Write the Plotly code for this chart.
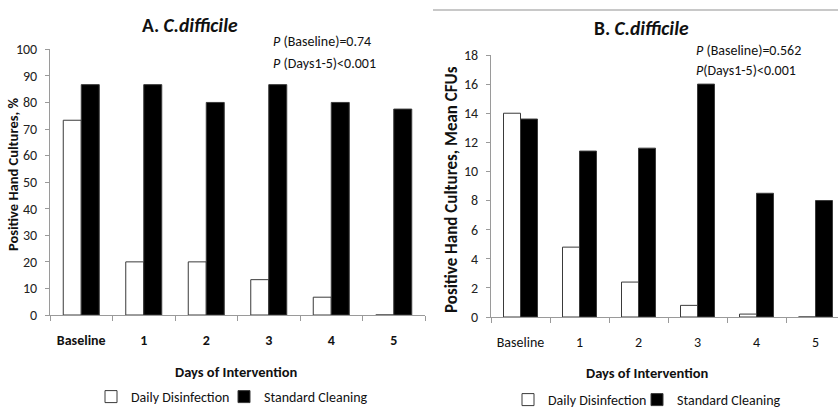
import plotly.graph_objects as go

categories = ["Baseline", "1", "2", "3", "4", "5"]
series_names = ["Daily Disinfection", "Standard Cleaning"]

# Panel A: positive hand cultures, %
a_daily = [73.3, 20.0, 20.0, 13.3, 6.7, 0.0]
a_standard = [86.7, 86.7, 80.0, 86.7, 80.0, 77.5]

# Panel B: positive hand cultures, mean CFUs
b_daily = [14.0, 4.8, 2.4, 0.8, 0.2, 0.0]
b_standard = [13.6, 11.4, 11.6, 16.0, 8.5, 8.0]

a_yticks = [0, 10, 20, 30, 40, 50, 60, 70, 80, 90, 100]
b_yticks = [0, 2, 4, 6, 8, 10, 12, 14, 16, 18]

FONT = "Carlito, Lato, sans-serif"
W, H = 838, 410
AX = "#9a9a9a"
EDGE = "#3a3a3a"
TXT = "#111"

def px_x(p):
    return p / W

def px_y(p):
    return 1 - p / H

fig = go.Figure()

fills = ["white", "black"]
legend_ids_a = ["legend", "legend2"]
legend_ids_b = ["legend3", "legend4"]
for name, vals, fill, lg in zip(series_names, [a_daily, a_standard], fills, legend_ids_a):
    fig.add_trace(go.Bar(x=categories, y=vals, name=name, xaxis="x", yaxis="y",
                         marker=dict(color=fill, line=dict(color=EDGE, width=1)),
                         legend=lg, showlegend=True))
for name, vals, fill, lg in zip(series_names, [b_daily, b_standard], fills, legend_ids_b):
    fig.add_trace(go.Bar(x=categories, y=vals, name=name, xaxis="x2", yaxis="y2",
                         marker=dict(color=fill, line=dict(color=EDGE, width=1)),
                         legend=lg, showlegend=True))

common_x = dict(type="category", showline=True, linecolor=AX, linewidth=1,
                ticks="outside", tickson="boundaries", ticklen=5, tickcolor=AX,
                showgrid=False, zeroline=False, ticklabelstandoff=12,
                tickangle=0, automargin=False, fixedrange=True)
common_y = dict(showline=True, linecolor=AX, linewidth=1, ticks="outside",
                ticklen=4, tickcolor=AX, showgrid=False, zeroline=False,
                tickfont=dict(size=14, color="#222", family=FONT),
                ticklabelstandoff=5, automargin=False, fixedrange=True)

legend_common = dict(orientation="h", xanchor="left", yanchor="middle",
                     font=dict(size=14, family=FONT, color=TXT),
                     bgcolor="rgba(0,0,0,0)", itemwidth=30)

fig.update_layout(
    width=W, height=H,
    showlegend=True,
    margin=dict(l=0, r=0, t=0, b=0, autoexpand=False),
    paper_bgcolor="white", plot_bgcolor="white",
    font=dict(family=FONT, color=TXT),
    barmode="group", bargap=0.424, bargroupgap=0,
    xaxis=dict(domain=[px_x(50), px_x(425)], anchor="y",
               range=[-0.5, 5.5],
               tickfont=dict(size=14, color=TXT, family=FONT, weight="bold"),
               **common_x),
    yaxis=dict(domain=[px_y(315), px_y(49.3)], anchor="x", range=[0, 100],
               tickvals=a_yticks, **common_y),
    xaxis2=dict(domain=[px_x(491), 1], anchor="y2",
                range=[-0.5, 5.5 - 7 / 59],
                tickfont=dict(size=14, color=TXT, family=FONT),
                **common_x),
    yaxis2=dict(domain=[px_y(317), px_y(55)], anchor="x2", range=[0, 18],
                tickvals=b_yticks, **common_y),
    legend=dict(x=px_x(91), y=px_y(397), **legend_common),
    legend2=dict(x=px_x(224), y=px_y(397), **legend_common),
    legend3=dict(x=px_x(508), y=px_y(400), **legend_common),
    legend4=dict(x=px_x(637), y=px_y(400), **legend_common),
)

annotations = [
    dict(text="<b>A. <i>C.difficile</i></b>", x=px_x(190), y=px_y(25), size=19.5),
    dict(text="<b>B. <i>C.difficile</i></b>", x=px_x(641), y=px_y(28), size=19.5),
    dict(text="<b>Days of Intervention</b>", x=px_x(236), y=px_y(372), size=14.5),
    dict(text="<b>Days of Intervention</b>", x=px_x(647), y=px_y(373), size=14.5),
]
for a in annotations:
    fig.add_annotation(text=a["text"], x=a["x"], y=a["y"], xref="paper", yref="paper",
                       showarrow=False, xanchor="center", yanchor="middle",
                       font=dict(size=a["size"], family=FONT, color=TXT))

pvals = [
    ("<i>P</i> (Baseline)=0.74", 271, 42),
    ("<i>P</i> (Days1-5)<0.001", 271, 63),
    ("<i>P</i> (Baseline)=0.562", 694, 50),
    ("<i>P</i>(Days1-5)<0.001", 694, 70),
]
for t, x, y in pvals:
    fig.add_annotation(text=t, x=px_x(x), y=px_y(y), xref="paper", yref="paper",
                       showarrow=False, xanchor="left", yanchor="middle",
                       font=dict(size=14, family=FONT, color=TXT))

ytitles = [
    ("<b>Positive Hand Cultures, %</b>", 13, 175, 14.5),
    ("<b>Positive Hand Cultures, Mean CFUs</b>", 451, 190, 17),
]
for t, x, y, s in ytitles:
    fig.add_annotation(text=t, x=px_x(x), y=px_y(y), xref="paper", yref="paper",
                       showarrow=False, xanchor="center", yanchor="middle",
                       textangle=-90, font=dict(size=s, family=FONT, color=TXT))

fig.add_shape(type="line", xref="paper", yref="paper",
              x0=px_x(433), x1=1, y0=px_y(10), y1=px_y(10),
              line=dict(color="#c8c8c8", width=2))

fig.write_html("out.html")
